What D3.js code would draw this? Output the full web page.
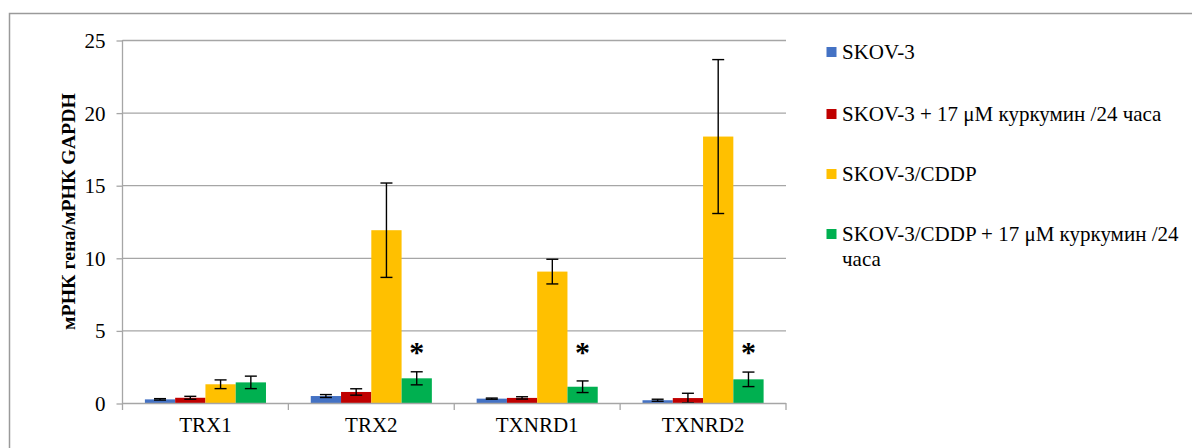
<!DOCTYPE html>
<html><head><meta charset="utf-8">
<script src="https://cdn.jsdelivr.net/npm/d3@7"></script>
<style>
html,body{margin:0;padding:0;background:#fff;}
</style></head>
<body><svg id="chart" width="1192" height="448"></svg>
<script>
const categories = ["TRX1", "TRX2", "TXNRD1", "TXNRD2"];
const seriesNames = ["SKOV-3", "SKOV-3 + 17 μM куркумин /24 часа", "SKOV-3/CDDP", "SKOV-3/CDDP + 17 μM куркумин /24 часа"];
const legendLines = [["SKOV-3"], ["SKOV-3 + 17 μM куркумин /24 часа"], ["SKOV-3/CDDP"], ["SKOV-3/CDDP + 17 μM куркумин /24", "часа"]];
const colors = ["#4472c4", "#c00000", "#ffc000", "#00b050"];
const skov3 = [0.25, 0.48, 0.30, 0.19];
const skov3Err = [0.05, 0.10, 0.04, 0.07];
const skov3Cur = [0.36, 0.76, 0.35, 0.34];
const skov3CurErr = [0.10, 0.22, 0.08, 0.33];
const cddp = [1.29, 11.9, 9.05, 18.35];
const cddpErr = [0.30, 3.25, 0.85, 5.3];
const cddpCur = [1.42, 1.70, 1.12, 1.63];
const cddpCurErr = [0.43, 0.45, 0.40, 0.50];
const significant = [false, true, true, true];
const yTicks = [0, 5, 10, 15, 20, 25];
const yTitle = "мРНК гена/мРНК GAPDH";

const values = [skov3, skov3Cur, cddp, cddpCur];
const errors = [skov3Err, skov3CurErr, cddpErr, cddpCurErr];

const FONT = '"Liberation Serif", "Times New Roman", serif';
const svg = d3.select("#chart");
const grey = "#a6a6a6";

// outer frame
svg.append("rect").attr("x", 9.5).attr("y", 13.5).attr("width", 1200).attr("height", 460)
  .attr("fill", "none").attr("stroke", "#9a9a9a").attr("stroke-width", 1.5);

const pLeft = 122.5, pRight = 786, pTop = 40, pBottom = 403;
const x0 = d3.scaleBand().domain(categories).range([pLeft, pRight]).paddingInner(0.27).paddingOuter(0.135);
const x1 = d3.scaleBand().domain(d3.range(4)).range([0, x0.bandwidth()]);
const y = d3.scaleLinear().domain([0, 25]).range([pBottom, pTop]);

// gridlines
svg.append("g").selectAll("line").data(yTicks.filter(d => d > 0)).join("line")
  .attr("x1", pLeft).attr("x2", pRight).attr("y1", d => y(d) + 0.5).attr("y2", d => y(d) + 0.5)
  .attr("stroke", grey).attr("stroke-width", 1.3);

// y axis
const yAxis = svg.append("g").attr("transform", `translate(${pLeft},0)`)
  .call(d3.axisLeft(y).tickValues(yTicks).tickSize(6).tickPadding(11));
yAxis.select(".domain").attr("stroke", grey).attr("stroke-width", 1.3).attr("d", `M0,${pTop}V${pBottom}`);
yAxis.selectAll(".tick line").attr("stroke", grey).attr("stroke-width", 1.3).attr("transform", "translate(0,0.5)");
yAxis.selectAll(".tick text").style("font-family", FONT).style("font-size", "21px").attr("fill", "#000").attr("dy", "0.36em");

// bars
const groups = svg.append("g").selectAll("g").data(categories).join("g")
  .attr("transform", d => `translate(${x0(d)},0)`);
groups.each(function(cat, ci) {
  const g = d3.select(this);
  const data = d3.range(4).map(si => ({si, v: values[si][ci], e: errors[si][ci]}));
  g.selectAll("rect").data(data).join("rect")
    .attr("x", d => x1(d.si)).attr("width", x1.bandwidth())
    .attr("y", d => y(d.v)).attr("height", d => y(0) - y(d.v))
    .attr("fill", d => colors[d.si]);
});

// x axis
const xAxis = svg.append("g").attr("transform", `translate(0,${pBottom + 0.5})`)
  .call(d3.axisBottom(x0).tickSize(0).tickPadding(14));
xAxis.select(".domain").attr("stroke", grey).attr("stroke-width", 1.3).attr("d", `M${pLeft},0H${pRight}`);
xAxis.selectAll(".tick text").style("font-family", FONT).style("font-size", "21px").attr("fill", "#000");
// category boundary ticks
const bounds = [pLeft].concat(categories.map(c => x0(c) + x0.bandwidth() + x0.step() * x0.paddingInner() / 2));
bounds[bounds.length - 1] = pRight;
svg.append("g").selectAll("line").data(bounds).join("line")
  .attr("x1", d => d).attr("x2", d => d).attr("y1", pBottom).attr("y2", pBottom + 7)
  .attr("stroke", grey).attr("stroke-width", 1.3);

// error bars
groups.each(function(cat, ci) {
  const g = d3.select(this);
  d3.range(4).forEach(si => {
    const cx = x1(si) + x1.bandwidth() / 2;
    const v = values[si][ci], e = errors[si][ci];
    const eg = g.append("g").attr("stroke", "#000").attr("stroke-width", 1.4);
    eg.append("line").attr("x1", cx).attr("x2", cx).attr("y1", y(v + e)).attr("y2", y(v - e));
    eg.append("line").attr("x1", cx - 6).attr("x2", cx + 6).attr("y1", y(v + e)).attr("y2", y(v + e));
    eg.append("line").attr("x1", cx - 6).attr("x2", cx + 6).attr("y1", y(v - e)).attr("y2", y(v - e));
  });
  if (significant[ci]) {
    g.append("text").attr("x", x1(3) + x1.bandwidth() / 2).attr("y", 362)
      .attr("text-anchor", "middle").style("font-family", FONT).style("font-weight", "bold")
      .style("font-size", "30px").attr("fill", "#000").text("*");
  }
});

// y title
const yt = svg.append("text").attr("transform", `translate(75,${211.5}) rotate(-90)`)
  .attr("text-anchor", "middle").style("font-family", FONT).style("font-weight", "bold")
  .style("font-size", "18px").attr("fill", "#000").text(yTitle);
const ytLen = yt.node().getComputedTextLength();
if (ytLen > 0) yt.style("font-size", (18 * 237 / ytLen).toFixed(2) + "px");

// legend
const leg = svg.append("g");
const rowY = [52, 114, 174, 234];
legendLines.forEach((lines, i) => {
  leg.append("rect").attr("x", 826.5).attr("y", rowY[i] - 5).attr("width", 10).attr("height", 10).attr("fill", colors[i]);
  lines.forEach((ln, j) => {
    leg.append("text").attr("x", 842).attr("y", rowY[i] + 7 + j * 25)
      .style("font-family", FONT).style("font-size", "21px").attr("fill", "#000").text(ln);
  });
});
</script></body></html>
